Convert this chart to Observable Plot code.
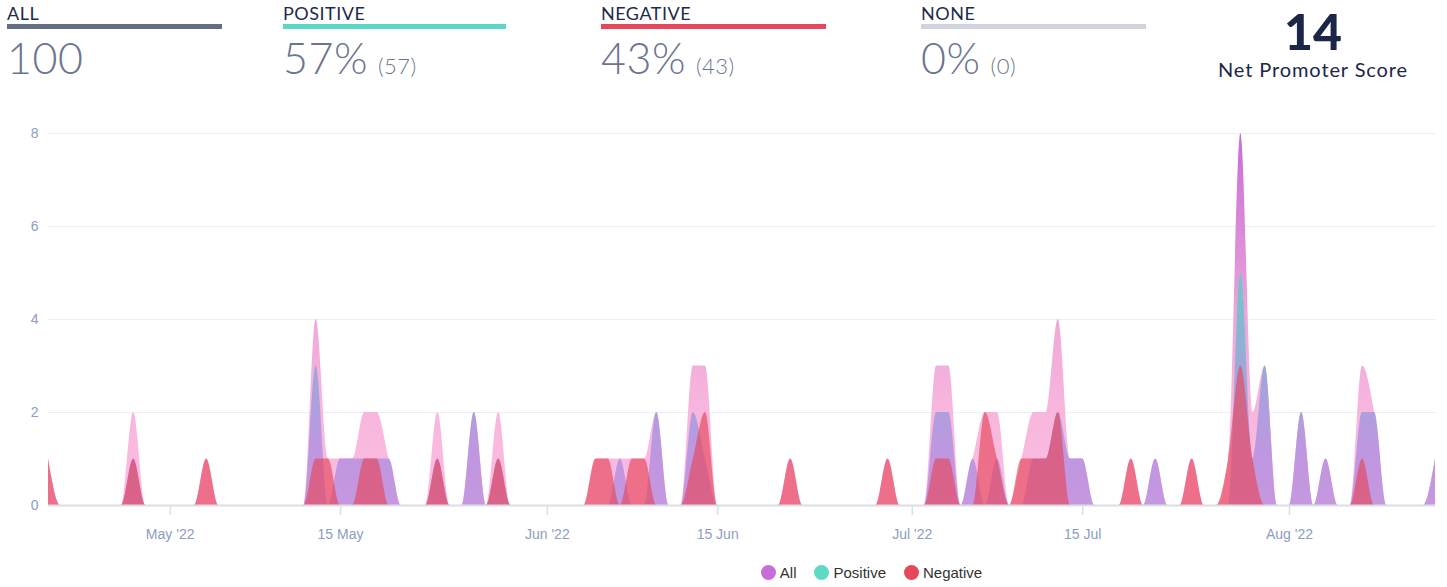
<!DOCTYPE html>
<html>
<head>
<meta charset="utf-8">
<script src="https://cdn.jsdelivr.net/npm/d3@7"></script>
<script src="https://cdn.jsdelivr.net/npm/@observablehq/plot@0.6"></script>
<style>
  html, body { margin: 0; padding: 0; background: #ffffff; }
  body { width: 1447px; height: 587px; position: relative; overflow: hidden; font-family: "Lato", "Open Sans", sans-serif; }
  .kpi { position: absolute; top: 0; }
  .kpi .lbl { position: absolute; top: 2px; left: 0; font-size: 18px; color: #1f2a4b; letter-spacing: 0.5px; white-space: nowrap; }
  .kpi .bar { position: absolute; top: 24px; left: 0; height: 5px; }
  .kpi .val { position: absolute; top: 32px; left: 0; font-size: 43px; font-weight: 300; color: #6b7590; white-space: nowrap; letter-spacing: 0.5px; }
  .kpi .val small { font-size: 22px; margin-left: 10px; letter-spacing: 0.5px; }
  .nps { position: absolute; left: 1213px; width: 200px; top: 2px; text-align: center; color: #1c2748; }
  .nps .big { font-size: 50px; font-weight: 900; line-height: 58px; }
  .nps .sub { font-size: 20px; line-height: 20px; margin-top: -1px; letter-spacing: 0.9px; white-space: nowrap; }
  #chart { position: absolute; left: 0; top: 100px; }
  #legend { position: absolute; top: 564px; left: 0; width: 1447px; display: flex; justify-content: center; font-family: "Liberation Sans", Arial, sans-serif; font-size: 15px; color: #333; padding-left: 296px; box-sizing: border-box; }
  #legend span.item { display: inline-flex; align-items: center; margin: 0 9px; }
  #legend span.dot { width: 15px; height: 15px; border-radius: 50%; display: inline-block; margin-right: 4px; }
</style>
</head>
<body>
<div id="header"></div>
<div id="chart"></div>
<div id="legend"></div>
<script>
// ---- data ----
const startDate = "2022-04-21"; // first day of the daily series
const kpiLabels = ["ALL", "POSITIVE", "NEGATIVE", "NONE"];
const kpiMain = ["100", "57%", "43%", "0%"];
const kpiCount = ["", "(57)", "(43)", "(0)"];
const kpiColors = ["#646e82", "#5ad8c4", "#e5475b", "#d0d3dc"];
const npsValue = "14";
const npsLabel = "Net Promoter Score";

const allValues = [
  1,0,0,0,0,0,0,2,0,0,
  0,0,0,1,0,0,0,0,0,0,
  0,0,4,1,1,1,2,2,1,0,
  0,0,2,0,0,2,0,2,0,0,
  0,0,0,0,0,1,1,1,1,1,
  2,0,0,3,3,0,0,0,0,0,
  0,1,0,0,0,0,0,0,0,1,
  0,0,0,3,3,0,1,2,2,0,
  1,2,2,4,1,1,0,0,0,1,
  0,1,0,0,1,0,0,1,8,2,
  3,0,0,2,0,1,0,0,3,2,
  0,0,0,0,1
];
const positiveValues = [
  0,0,0,0,0,0,0,1,0,0,
  0,0,0,0,0,0,0,0,0,0,
  0,0,3,0,1,1,1,1,1,0,
  0,0,1,0,0,2,0,1,0,0,
  0,0,0,0,0,0,0,1,0,0,
  2,0,0,2,1,0,0,0,0,0,
  0,0,0,0,0,0,0,0,0,0,
  0,0,0,2,2,0,1,0,1,0,
  0,1,1,2,1,1,0,0,0,0,
  0,1,0,0,0,0,0,0,5,1,
  3,0,0,2,0,1,0,0,2,2,
  0,0,0,0,1
];
const negativeValues = [
  1,0,0,0,0,0,0,1,0,0,
  0,0,0,1,0,0,0,0,0,0,
  0,0,1,1,0,0,1,1,0,0,
  0,0,1,0,0,0,0,1,0,0,
  0,0,0,0,0,1,1,0,1,1,
  0,0,0,1,2,0,0,0,0,0,
  0,1,0,0,0,0,0,0,0,1,
  0,0,0,1,1,0,0,2,1,0,
  1,1,1,2,0,0,0,0,0,1,
  0,0,0,0,1,0,0,1,3,1,
  0,0,0,0,0,0,0,0,1,0,
  0,0,0,0,0
];
const yTicks = [0, 2, 4, 6, 8];
const xTickDates = ["2022-05-01", "2022-05-15", "2022-06-01", "2022-06-15", "2022-07-01", "2022-07-15", "2022-08-01"];
const xTickLabels = ["May '22", "15 May", "Jun '22", "15 Jun", "Jul '22", "15 Jul", "Aug '22"];
const seriesNames = ["All", "Positive", "Negative"];
const seriesColors = ["#c86dd7", "#5dd9c4", "#e5475b"];

// ---- header ----
const header = document.getElementById("header");
const kpiLeft = [7, 283, 601, 921];
const kpiWidth = [215, 223, 225, 225];
kpiLabels.forEach((lab, i) => {
  const d = document.createElement("div");
  d.className = "kpi";
  d.style.left = kpiLeft[i] + "px";
  d.style.width = kpiWidth[i] + "px";
  d.innerHTML = `<div class="lbl">${lab}</div><div class="bar" style="width:${kpiWidth[i]}px;background:${kpiColors[i]}"></div>` +
    `<div class="val">${kpiMain[i]}${kpiCount[i] ? `<small>${kpiCount[i]}</small>` : ""}</div>`;
  header.appendChild(d);
});
const nps = document.createElement("div");
nps.className = "nps";
nps.innerHTML = `<div class="big">${npsValue}</div><div class="sub">${npsLabel}</div>`;
header.appendChild(nps);

// ---- chart ----
const t0 = d3.utcParse("%Y-%m-%d")(startDate);
const data = allValues.map((v, i) => ({
  date: d3.utcDay.offset(t0, i),
  all: v,
  positive: positiveValues[i],
  negative: negativeValues[i]
}));
const tickDates = xTickDates.map(d3.utcParse("%Y-%m-%d"));
const labelMap = new Map(tickDates.map((d, i) => [+d, xTickLabels[i]]));

const axisColor = "#8d9cc4";
const plot = Plot.plot({
  width: 1447,
  height: 455,
  marginLeft: 48,
  marginRight: 12,
  marginTop: 33,
  marginBottom: 50,
  style: { fontFamily: "Liberation Sans, Arial, sans-serif", fontSize: "14px", background: "transparent" },
  x: { type: "utc", domain: [data[0].date, data[data.length - 1].date] },
  y: { domain: [0, 8] },
  marks: [
    Plot.gridY(yTicks.filter(d => d > 0), { stroke: "#ecedf5", strokeOpacity: 1, strokeWidth: 1 }),
    Plot.areaY(data, { x: "date", y: "all", curve: "monotone-x", fill: "url(#gradAll)" }),
    Plot.areaY(data, { x: "date", y: "positive", curve: "monotone-x", fill: "url(#gradPos)" }),
    Plot.areaY(data, { x: "date", y: "negative", curve: "monotone-x", fill: seriesColors[2], fillOpacity: 0.66 }),
    Plot.ruleY([0], { stroke: "#dcdee6", strokeWidth: 2 }),
    Plot.axisY(yTicks, { tickSize: 0, tickPadding: 10, fill: axisColor, fontSize: 14 }),
    Plot.axisX(tickDates, { tickSize: 10, tickPadding: 14, stroke: "#dcdee6", strokeWidth: 1.5, fill: axisColor, fontSize: 14, tickFormat: d => labelMap.get(+d) })
  ]
});

// gradients in plot user space, positioned via the y scale
const y = plot.scale("y");
const yTop = y.apply(8), yBot = y.apply(0);
const svg = d3.select(plot.tagName === "svg" ? plot : plot.querySelector("svg"));
const defs = svg.insert("defs", ":first-child");
function grad(id, stops) {
  const g = defs.append("linearGradient").attr("id", id)
    .attr("gradientUnits", "userSpaceOnUse")
    .attr("x1", 0).attr("x2", 0).attr("y1", yTop).attr("y2", yBot);
  stops.forEach(([o, c]) => g.append("stop").attr("offset", o).attr("stop-color", c));
}
grad("gradAll", [[0, "#c86dd7"], [0.2, "#d683d8"], [0.375, "#e396d9"], [0.5, "#eea7db"], [0.75, "#f8b6dd"], [1, "#fcbde0"]]);
grad("gradPos", [[0, "#5dd9c4"], [0.375, "#68cdc6"], [0.5, "#82bace"], [0.625, "#9ba9d8"], [0.75, "#b09ede"], [0.875, "#c096e0"], [1, "#c598e0"]]);

document.getElementById("chart").appendChild(plot);

// ---- legend ----
const legend = document.getElementById("legend");
seriesNames.forEach((n, i) => {
  const s = document.createElement("span");
  s.className = "item";
  s.innerHTML = `<span class="dot" style="background:${seriesColors[i]}"></span>${n}`;
  legend.appendChild(s);
});
</script>
</body>
</html>
